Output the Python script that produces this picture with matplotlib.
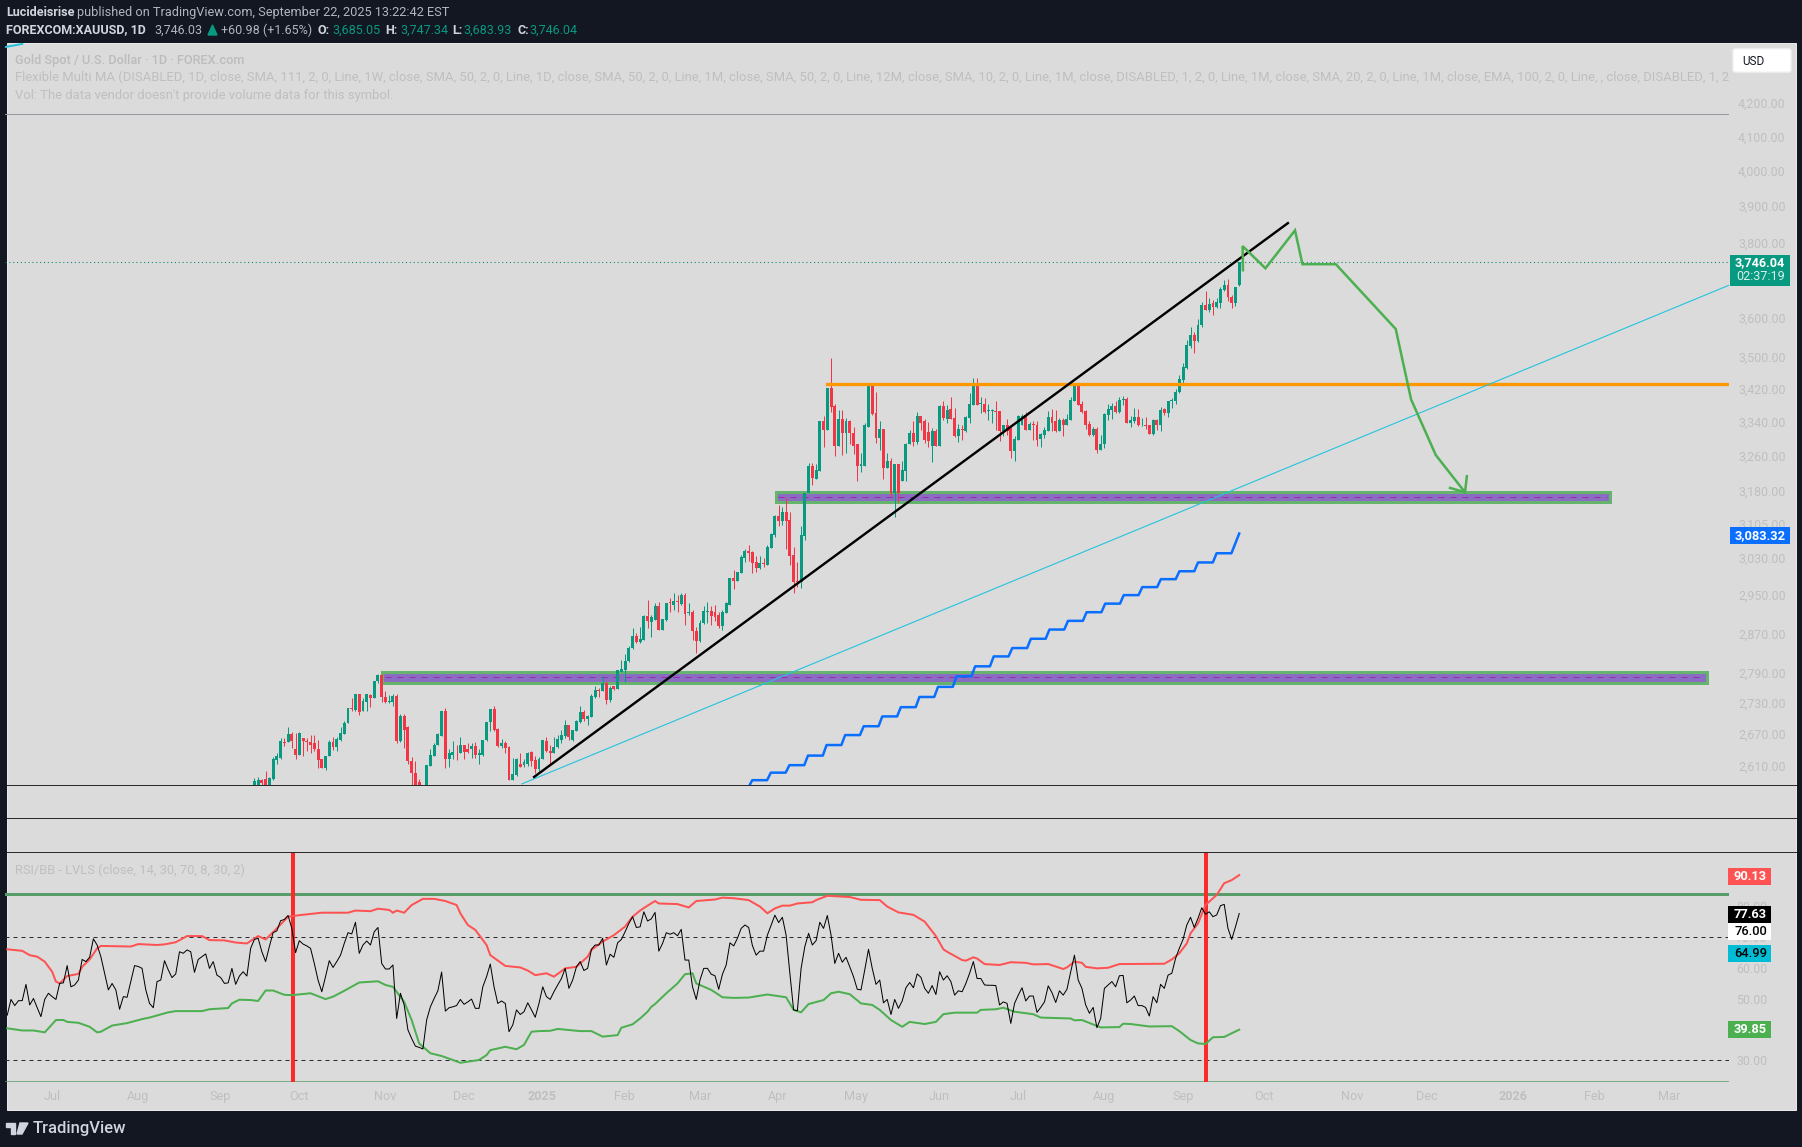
import matplotlib
matplotlib.use("Agg")
import matplotlib.pyplot as plt
from matplotlib.lines import Line2D
from matplotlib.patches import Rectangle, Polygon, FancyBboxPatch
import numpy as np

plt.rcParams['font.family'] = ['Roboto', 'DejaVu Sans']

# ---------- data ----------
opens = [2565,2565,2583,2585,2555,2585,2620,2625,2655,2654,
 2671,2642,2631,2663,2657,2655,2653,2642,2622,2605,
 2628,2655,2645,2659,2671,2691,2720,2717,2748,2714,
 2733,2745,2739,2773,2786,2742,2733,2733,2743,2656,
 2705,2684,2618,2597,2580,2530,2560,2610,2629,2649,
 2667,2715,2622,2631,2634,2634,2650,2642,2641,2648,
 2631,2631,2658,2693,2718,2680,2647,2652,2646,2584,
 2592,2614,2611,2614,2636,2620,2603,2622,2657,2638,
 2633,2645,2659,2666,2688,2659,2675,2693,2713,2699,
 2703,2742,2755,2753,2770,2737,2763,2757,2792,2796,
 2813,2840,2864,2853,2856,2907,2894,2898,2927,2878,
 2898,2936,2929,2937,2931,2951,2912,2915,2875,2855,
 2891,2915,2917,2915,2909,2886,2913,2929,2986,2980,
 2997,3030,3044,3043,3021,3008,3019,3015,3051,3080,
 3123,3111,3131,3113,3036,2979,2978,3078,3174,3236,
 3207,3226,3342,3322,3424,3380,3284,3348,3314,3342,
 3314,3287,3237,3237,3328,3429,3361,3303,3324,3233,
 3249,3174,3240,3201,3226,3289,3314,3292,3355,3342,
 3316,3284,3318,3284,3380,3348,3371,3350,3306,3324,
 3320,3350,3381,3430,3384,3385,3367,3368,3367,3367,
 3320,3332,3328,3271,3298,3334,3357,3322,3336,3334,
 3300,3310,3320,3352,3342,3320,3346,3334,3346,3392,
 3430,3383,3367,3336,3310,3324,3273,3287,3357,3369,
 3379,3365,3394,3396,3339,3342,3352,3332,3334,3332,
 3312,3346,3334,3371,3363,3390,3391,3412,3443,3473,
 3527,3555,3541,3580,3632,3619,3637,3628,3638,3672,
 3686,3655,3638,3685.05]
highs = [2587,2588,2586,2600,2588,2627,2634,2662,2662,2684,
 2673,2672,2673,2663,2662,2669,2669,2659,2623,2628,
 2659,2664,2665,2683,2696,2720,2740,2748,2748,2740,
 2747,2747,2774,2788,2788,2753,2745,2748,2748,2709,
 2709,2685,2626,2619,2585,2560,2611,2641,2653,2672,
 2715,2720,2641,2657,2650,2665,2650,2653,2653,2654,
 2641,2659,2693,2719,2725,2682,2661,2656,2647,2625,
 2625,2634,2622,2636,2638,2628,2627,2659,2664,2650,
 2665,2669,2678,2698,2688,2677,2698,2724,2717,2707,
 2747,2763,2760,2783,2773,2763,2763,2796,2816,2828,
 2844,2881,2870,2884,2909,2940,2909,2933,2936,2899,
 2934,2943,2954,2950,2954,2954,2933,2919,2884,2898,
 2926,2936,2926,2929,2915,2919,2936,2987,3003,2999,
 3036,3049,3057,3045,3033,3034,3030,3058,3084,3125,
 3148,3142,3165,3132,3054,3021,3099,3175,3243,3243,
 3240,3342,3355,3424,3497,3383,3369,3369,3350,3346,
 3328,3289,3267,3338,3435,3435,3414,3342,3324,3267,
 3255,3240,3240,3249,3291,3322,3342,3365,3355,3348,
 3340,3326,3324,3381,3390,3381,3400,3373,3336,3334,
 3355,3410,3447,3447,3402,3398,3385,3371,3391,3367,
 3334,3348,3332,3306,3357,3360,3365,3340,3342,3342,
 3314,3328,3367,3371,3369,3350,3350,3360,3400,3435,
 3435,3391,3369,3342,3328,3328,3310,3361,3383,3387,
 3390,3400,3403,3402,3355,3373,3371,3350,3352,3332,
 3348,3348,3377,3375,3391,3398,3420,3454,3485,3543,
 3575,3563,3596,3640,3671,3652,3645,3652,3681,3699,
 3702,3660,3681,3747.34]
lows = [2555,2560,2570,2550,2545,2583,2613,2622,2648,2654,
 2644,2623,2631,2628,2637,2634,2637,2605,2605,2602,
 2628,2639,2637,2657,2671,2691,2714,2715,2707,2714,
 2714,2722,2739,2769,2732,2730,2730,2724,2652,2654,
 2644,2613,2570,2550,2540,2510,2555,2610,2628,2649,
 2667,2605,2607,2623,2621,2634,2622,2634,2625,2625,
 2613,2629,2656,2675,2675,2645,2644,2633,2584,2584,
 2591,2608,2608,2610,2610,2597,2600,2622,2635,2611,
 2633,2644,2652,2662,2659,2656,2675,2691,2696,2688,
 2703,2740,2742,2753,2729,2733,2755,2757,2792,2771,
 2811,2838,2851,2850,2856,2881,2862,2898,2877,2877,
 2895,2915,2919,2915,2929,2888,2909,2856,2830,2853,
 2889,2891,2888,2895,2881,2878,2912,2929,2964,2980,
 2997,3022,3023,2997,3000,3005,3011,3015,3051,3076,
 3099,3102,3050,3014,2954,2968,2966,3069,3174,3192,
 3207,3226,3282,3322,3365,3259,3284,3263,3267,3287,
 3265,3201,3222,3237,3328,3357,3290,3273,3207,3232,
 3167,3120,3154,3201,3202,3287,3284,3287,3322,3290,
 3282,3245,3284,3284,3346,3338,3348,3304,3292,3298,
 3316,3338,3381,3381,3362,3361,3346,3338,3322,3294,
 3306,3310,3254,3248,3298,3332,3322,3322,3297,3284,
 3282,3302,3320,3320,3316,3320,3308,3334,3344,3390,
 3381,3362,3324,3306,3306,3268,3273,3279,3346,3348,
 3361,3362,3381,3339,3328,3338,3330,3330,3324,3312,
 3310,3322,3320,3357,3352,3373,3385,3411,3435,3471,
 3523,3510,3538,3576,3619,3616,3608,3626,3626,3671,
 3643,3625,3630,3683.93]
closes = [2581,2583,2578,2560,2587,2622,2628,2656,2653,2671,
 2656,2631,2672,2656,2654,2650,2641,2620,2605,2628,
 2655,2645,2660,2672,2692,2720,2719,2748,2712,2735,
 2747,2739,2774,2786,2742,2733,2735,2743,2656,2705,
 2677,2618,2597,2560,2550,2520,2611,2630,2650,2671,
 2715,2622,2633,2636,2633,2650,2636,2636,2648,2631,
 2633,2659,2693,2718,2677,2647,2652,2644,2584,2594,
 2623,2608,2617,2633,2619,2603,2622,2658,2637,2633,
 2645,2661,2669,2688,2665,2677,2695,2713,2699,2704,
 2743,2755,2753,2770,2737,2760,2757,2796,2797,2813,
 2841,2865,2853,2858,2907,2895,2903,2927,2878,2899,
 2934,2934,2937,2935,2951,2910,2915,2874,2855,2892,
 2917,2917,2906,2905,2886,2915,2933,2987,2980,2999,
 3032,3046,3041,3019,3008,3019,3017,3054,3083,3123,
 3111,3131,3111,3033,2978,2977,3080,3175,3236,3209,
 3228,3342,3322,3424,3377,3284,3348,3314,3342,3314,
 3284,3236,3240,3332,3430,3359,3303,3324,3233,3249,
 3174,3240,3174,3228,3289,3314,3292,3355,3339,3297,
 3296,3318,3284,3380,3350,3369,3348,3306,3324,3322,
 3352,3383,3430,3381,3387,3365,3370,3370,3365,3320,
 3332,3320,3271,3300,3355,3355,3322,3336,3334,3298,
 3312,3322,3352,3339,3320,3346,3334,3348,3393,3430,
 3381,3365,3334,3310,3324,3273,3289,3360,3371,3379,
 3365,3394,3396,3339,3346,3352,3332,3334,3331,3312,
 3346,3334,3369,3363,3391,3393,3414,3445,3475,3530,
 3555,3541,3582,3632,3619,3636,3628,3640,3676,3686,
 3654,3638,3681,3746.04]

rsi_values = [44.6,49.7,47.7,49.3,49.3,54.6,47.9,50,47,44.1,49.7,51.7,50.6,49.7,54.9,55.1,60.7,53.8,54.4,56,
 62.7,62,63.4,69.4,67.4,63.6,58.2,52.8,54.9,52.8,46.5,50.6,50.4,55.5,60.7,60.4,59.8,52.8,48.4,47,
 55.5,56,62.3,59.3,56.8,58,65.2,64.7,65.8,65.2,58.5,62.7,63.6,64.5,59.8,62,57.6,56.8,54.9,55.1,
 59.8,54.6,57.3,58.7,57.3,66.3,69.2,69.6,65.2,62,66.9,71.4,72,75.3,75.7,77,72.8,64.9,68.8,67.7,
 67.1,66.3,61.4,56,52.2,57.1,62.3,60.1,62,64.1,67.9,71.4,71,74.8,64.7,67.4,68.7,67.4,71.7,73.1,
 61.4,59.6,59.6,60.9,43.5,51.7,47.9,39.8,37,34.5,34.1,33.6,43,47.3,50,52.5,58.6,45.9,47,47.3,
 47.7,49.7,48.1,48.9,49.8,46.8,46.8,53.8,57.1,61.2,53.8,48.4,49.2,48.4,39.2,41.4,46.3,44.8,45.7,48.6,
 46.3,43.9,48.4,53.8,50.6,49.7,52.2,54.4,56.5,59.8,53.3,56,60.3,62,59.1,59.8,66,67.4,67.4,69.6,
 60.9,64.4,63.4,68.1,69.2,71.7,74.4,76.6,73.1,73.3,
 78.2,75.2,75.9,78,65.4,67.9,71.4,70.9,71.4,70.4,72.5,62.5,62.5,53.8,49.7,56,59.8,59.8,57.9,57.4,
 53,57.9,60.9,68.1,67.1,69.6,72.8,73.9,73.1,67.2,64.1,65.4,65.4,70.6,73.9,77.1,74.7,76.4,70.6,58.2,
 46.3,46,59.8,66.9,71.2,67.4,68.8,74.8,72.8,77,70.6,61.4,64.7,61.8,63.4,60.3,57.1,53,52.8,59.3,
 66,59.8,54.6,56,48.6,49.7,44.8,49.7,46.8,49.2,53.5,55.2,53.5,58,56.9,53.3,51.7,54.2,51.3,58.7,
 56,57.4,55.5,51.1,52.5,52.2,54.9,58.2,62,56.5,56.5,54.4,54.3,54.3,54.2,47.9,48.9,48.4,41.9,48.4,
 51.1,53.5,49.2,50.8,50.8,45.5,47.1,48.9,54.1,51.9,48.7,52.5,51.1,53,58.7,64.1,56,53.3,47.9,45.2,
 47.1,40.5,43.5,53.3,54.4,55.5,53.8,57.4,57.5,48.6,49.5,50.8,47.7,47.7,47.1,44.3,50.6,48.6,54.6,53.3,
 57.6,58.2,63,66.3,69.2,73.9,76.4,73.1,76.1,79.5,77.4,78.2,76.6,77.2,80.2,80.6,72.8,69.2,73.3,77.63]

upper_idx = [-66,-62,-60,-58,-56,-54,-53,-52,-50,-47,-46,-44,-42,-41,-33,-31,-26,-24,-21,-18,-14,-12,-8,-5,-2,1,3,6,9,12,18,25,27,31,33,36,37,38,40,42,45,48,51,54,55,57,59,62,63,67,71,73,75,78,80,83,86,89,90,93,96,99,101,103,
 105,107,108,113,116,118,123,125,128,132,135,137,139,141,143,145,149,150,153,156,159,162,167,169,172,176,179,182,184,185,189,190,192,193,195,199,202,206,208,212,216,217,219,221,222,225,228,231,243,245,247,249,250,252,254,257,259,261,263]
upper_band = [66,65.5,64.1,63.6,62,58.7,55.5,54.9,57.3,58,60.3,62.7,66.3,67.1,66.9,67.7,67.4,67.6,68.3,70.3,70.3,69,68.9,68.2,67.9,70.3,69.2,72.8,76.6,77.1,77.9,77.9,78.6,78.4,79.2,78.8,77.9,78.6,77.9,80.4,82.4,82.4,81.7,80.4,77.7,73.9,72.3,67.4,64.1,60.6,60.1,59.1,57.6,58.2,57.1,59.8,60.3,63.6,65.8,68.5,70.6,73.4,76.6,78.6,
 80.2,81.7,80.9,80.7,79.6,81.7,82.2,82.8,82.6,82,79.9,77.7,79.3,80.2,80.2,80.9,81.3,82,83.4,83.2,83,82.1,82,79.9,78,77.2,75,70.3,66,65.2,62.5,62.3,63.4,63,61.2,60.9,61.8,61.6,61.1,61.2,59.6,60.1,62,61.6,60.3,59.8,60,61.2,61.3,62.7,64.7,67.9,71.2,74.4,80.4,83.7,87.5,88.5,90.13]

lower_idx = [-66,-62,-59,-56,-55,-53,-51,-50,-47,-44,-42,-41,-38,-34,-30,-28,-23,-21,-14,-12,-7,-6,-4,-1,1,3,5,8,10,15,19,21,24,28,33,35,37,40,42,44,47,50,53,55,60,62,63,67,70,72,74,76,79,81,87,90,93,97,98,101,103,
 105,106,107,110,113,115,117,118,122,125,128,132,137,142,144,146,148,152,154,156,159,162,165,167,170,173,175,179,182,184,187,193,194,198,200,203,208,210,218,219,221,226,231,232,234,239,245,247,250,252,254,256,259,261,263]
lower_band = [40.3,39.6,39.6,39,40.3,43,43,42.4,42.1,40.8,39,39.2,41.2,42,43.3,43.8,45.5,45.9,45.9,46.5,46.9,48.4,49.6,49.5,49.2,52.6,52.6,51.2,51.1,51.7,49.8,50.6,52.5,55.2,55.6,54.4,53.8,48.9,43,35.4,32.2,31.3,30,29.1,30,31.6,33.2,34.3,33.5,34.9,39.2,39.4,39.5,40.1,39.4,39.4,37.6,38.1,40.5,41.6,43.5,
 45.7,47.3,48.2,51.7,54.9,57.9,58.2,54.9,52.8,50.4,50.2,50.3,51.3,50.4,46.3,45.5,48.2,49.5,51.7,52.2,51.4,48.4,47.9,46.3,43,40.8,42.4,41.7,42.4,44.9,45.4,45.4,46.3,46.5,47,45.7,44.9,43.8,43.5,42.9,43,40.6,40.7,41.8,41.7,40.9,41,39.4,36.5,35.4,35.2,37.4,37.5,38.7,39.85]

weekly_ma = [2570,2583,2597,2611,2629,2649,2668,2685,2704,2722,2742,2762,2783,2803,2823,2840,2859,2878,2896,2914,2932,2950,2967,2984,3001,3020,3040]
weekly_ma_last = 3083.32

trend_idx, trend_price = [74.7, 276.0], [2589, 3853]
channel_idx, channel_price = [71.4, 393.8], [2576, 3685]
channel2_idx, channel2_price = [-66.6, -62.0], [4372, 4382]
path_idx = [264, 263.9, 270, 277.9, 279.9, 288.8, 304.8, 308.9, 315.5, 323.3]
path_price = [3725, 3790, 3730, 3833, 3741, 3741, 3571, 3395, 3262, 3176]
arrow_idx = [319.3, 323.3, 323.8]
arrow_price = [3186, 3176, 3213]
resistance_price = 3432
resistance_start = 152.9
zones = [(33.8, 388.4, 2769, 2791, 2781), (138.8, 362.3, 3153, 3176, 3165)]
price_ticks = [4200,4100,4000,3900,3800,3600,3500,3420,3340,3260,3180,3105,3030,2950,2870,2790,2730,2670,2610]
rsi_ticks = [80,70,60,50,30]
month_pos = [-54.1,-31.1,-9.2,11.9,34.9,56,76.8,98.7,119,139.8,160.6,182.8,203.9,226.9,248,269.7,293.2,313.2,336.2,357.9,377.9]
month_lab = ['Jul','Aug','Sep','Oct','Nov','Dec','2025','Feb','Mar','Apr','May','Jun','Jul','Aug','Sep','Oct','Nov','Dec','2026','Feb','Mar']
signal_idx = [10.3, 254.1]

W, H = 1802, 1147
def fx(x): return x / W
def fy(y): return 1 - y / H
def ax_rect(l, t, r, b): return [fx(l), fy(b), (r - l) / W, (b - t) / H]
PX = 0.72  # points per pixel at dpi 100

UP, DOWN = '#089981', '#f23645'
FAINT = '#bfbfbf'
fig = plt.figure(figsize=(W / 100, H / 100), dpi=100, facecolor='#121722')
fig.add_artist(Rectangle((fx(6.5), fy(1110)), 1789.5 / W, 1067 / H, transform=fig.transFigure,
                         facecolor='#dbdbdb', edgecolor='#ececec', lw=0.7, zorder=-5))

# ---------- price pane ----------
ax = fig.add_axes(ax_rect(5, 43, 1729, 785), facecolor='none')
ax.set_yscale('log')
XMIN, XMAX = -66.6, 393.8
ax.set_xlim(XMIN, XMAX)
ax.set_ylim(4200 * np.exp(-(785 - 103) / 1393), 4200 * np.exp((103 - 43) / 1393))

x = np.arange(len(closes))
o, h, l, c = map(np.array, (opens, highs, lows, closes))
cols = np.where(c >= o, UP, DOWN)
ax.vlines(x, l, h, colors=cols, lw=1 * PX, zorder=3)
ax.bar(x, np.maximum(np.abs(c - o), 1.5), bottom=np.minimum(o, c), width=0.78, color=cols, lw=0, zorder=3)

for x0, x1, lo, hi, mid in zones:
    ax.add_patch(Rectangle((x0 + .4, lo), x1 - x0 - .8, hi - lo, facecolor='#8a6dc3', edgecolor='#66b36e',
                           lw=3 * PX, zorder=2))
    ax.plot([x0 + 1, x1 - 1], [mid, mid], color='#9c27b0', lw=1 * PX, dashes=(6, 6), zorder=2.1)

ax.plot([resistance_start, XMAX], [resistance_price] * 2, color='#ff9800', lw=3.3 * PX, zorder=4)
ax.plot(channel_idx, channel_price, color='#22c4dc', lw=1.1 * PX, zorder=4)
ax.plot(channel2_idx, channel2_price, color='#22c4dc', lw=2 * PX, zorder=4)
ax.plot(trend_idx, trend_price, color='black', lw=2.4 * PX, zorder=5)
ax.plot(path_idx, path_price, color='#4caf50', lw=2.5 * PX, zorder=5, solid_joinstyle='miter')
ax.plot(arrow_idx, arrow_price, color='#4caf50', lw=2.5 * PX, zorder=5)

sx, sy = [], []
for k, v in enumerate(weekly_ma):
    st = 128 + 4.96 * k
    sx += [st, st + 3.96]
    sy += [v, v]
sx.append(263); sy.append(weekly_ma_last)
ax.plot(sx, sy, color='#0a6eff', lw=2.5 * PX, zorder=4)

ax.axhline(closes[-1], color='#0b8a74', lw=1.1 * PX, ls=(0, (1, 2.5)), zorder=2)
ax.axhline(4167, color='#9598a1', lw=1 * PX, zorder=2)

ax.yaxis.tick_right()
ax.set_yticks(price_ticks)
ax.set_yticklabels([f'{p:,.2f}' for p in price_ticks])
ax.minorticks_off()
ax.tick_params(axis='y', length=0, pad=9 * PX, labelsize=8.9, labelcolor=FAINT)
ax.set_xticks([])
for s in ax.spines.values():
    s.set_visible(False)

# legend lines
ma_text = ("Flexible Multi MA (DISABLED, 1D, close, SMA, 111, 2, 0, Line, 1W, close, SMA, 50, 2, 0, Line, "
           "1D, close, SMA, 50, 2, 0, Line, 1M, close, SMA, 50, 2, 0, Line, 12M, close, SMA, 10, 2, 0, Line, "
           "1M, close, DISABLED, 1, 2, 0, Line, 1M, close, SMA, 20, 2, 0, Line, 1M, close, EMA, 100, 2, 0, Line, "
           ", close, DISABLED, 1, 2")
fig.text(fx(15), fy(60.7), "Gold Spot / U.S. Dollar · 1D · FOREX.com", color='#bcbcbc', fontsize=9.2, va='center', weight='medium')
fig.text(fx(15), fy(77.7), ma_text, color=FAINT, fontsize=9.38, va='center')
fig.text(fx(15), fy(95), "Vol: The data vendor doesn't provide volume data for this symbol.", color=FAINT, fontsize=9.35, va='center')

# ---------- RSI pane ----------
rx = fig.add_axes(ax_rect(5, 852, 1729, 1082), facecolor='none')
rx.set_xlim(XMIN, XMAX)
rx.set_ylim(70 - (1082 - 937) / 3.075, 70 + (937 - 852) / 3.075)
rx.axhline(84, color='#589d69', lw=3 * PX, zorder=2)
rx.plot([XMIN, XMAX], [22.95, 22.95], color='#589d69', lw=1.5 * PX, zorder=2)
rx.axhline(70, color='#2b2b2b', lw=1 * PX, dashes=(4, 4), zorder=2)
rx.axhline(30, color='#2b2b2b', lw=1 * PX, dashes=(4, 4), zorder=2)
for s_i in signal_idx:
    rx.axvline(s_i, color='#fb2b2b', lw=4 * PX, zorder=3)
rx.plot(upper_idx, upper_band, color='#ff5252', lw=2 * PX, zorder=4)
rx.plot(lower_idx, lower_band, color='#4caf50', lw=2 * PX, zorder=4)
rsi_x = 263 - (len(rsi_values) - 1) + np.arange(len(rsi_values))
rx.plot(rsi_x, rsi_values, color='black', lw=1 * PX, zorder=5)
rx.yaxis.tick_right()
rx.set_yticks(rsi_ticks)
rx.set_yticklabels([f'{v:.2f}' for v in rsi_ticks])
rx.tick_params(axis='y', length=0, pad=7 * PX, labelsize=8.9, labelcolor=FAINT)
rx.set_xticks(month_pos)
rx.set_xticklabels(month_lab)
rx.tick_params(axis='x', length=0, pad=8 * PX, labelsize=9.1, labelcolor=FAINT)
for lab in rx.get_xticklabels():
    if lab.get_text() in ('2025', '2026'):
        lab.set_fontweight('bold')
for s in rx.spines.values():
    s.set_visible(False)
fig.text(fx(15), fy(870), "RSI/BB - LVLS (close, 14, 30, 70, 8, 30, 2)", color=FAINT, fontsize=9.3, va='center')

# pane separators
for yy in (785, 818, 852):
    fig.add_artist(Line2D([fx(6.5), fx(1796)], [fy(yy), fy(yy)], color='#2b2b2b', lw=1 * PX, transform=fig.transFigure, zorder=6))

# ---------- header ----------
fig.text(fx(6), fy(12.5), "Lucideisrise", color='#d1d4dc', fontsize=9.1, weight='bold', va='center')
fig.text(fx(77), fy(12.5), "published on TradingView.com, September 22, 2025 13:22:42 EST", color='#b2b5be', fontsize=9.15, va='center')
fig.text(fx(6), fy(30), "FOREXCOM:XAUUSD, 1D", color='#d1d4dc', fontsize=9.0, weight='bold', va='center')
fig.text(fx(154), fy(30), "3,746.03", color='#b2b5be', fontsize=9.0, va='center')
fig.text(fx(221), fy(30), "+60.98 (+1.65%)", color='#b2b5be', fontsize=9.0, va='center')
fig.add_artist(Polygon([(fx(208), fy(35)), (fx(217), fy(35)), (fx(212.5), fy(25))], closed=True, transform=fig.transFigure, color=UP))
for lx, lab, vx, val in [(317, 'O:', 332, '3,685.05'), (385, 'H:', 400, '3,747.34'), (452, 'L:', 463, '3,683.93'), (517, 'C:', 529, '3,746.04')]:
    fig.text(fx(lx), fy(30), lab, color='#d1d4dc', fontsize=9.0, weight='bold', va='center')
    fig.text(fx(vx), fy(30), val, color=UP, fontsize=9.0, va='center')

# ---------- value boxes ----------
def box(l, t, r, b, color, text, tc, weight='medium'):
    fig.add_artist(Rectangle((fx(l), fy(b)), (r - l) / W, (b - t) / H, transform=fig.transFigure, color=color, lw=0, zorder=7))
    fig.text(fx(r - 4), fy((t + b) / 2), text, color=tc, fontsize=9.3, weight=weight, ha='right', va='center', zorder=8)

fig.add_artist(Rectangle((fx(1730), fy(286)), 60 / W, 31 / H, transform=fig.transFigure, color=UP, lw=0, zorder=7))
fig.text(fx(1785), fy(263), "3,746.04", color='white', fontsize=9.1, weight='bold', ha='right', va='center', zorder=8)
fig.text(fx(1785), fy(277), "02:37:19", color='#d9efe9', fontsize=9.1, ha='right', va='center', zorder=8)
box(1730, 527, 1790, 544, '#0a6eff', "3,083.32", 'white', 'bold')
box(1728, 868, 1771, 885, '#ff5252', "90.13", 'white', 'bold')
box(1728, 906, 1771, 923, 'black', "77.63", 'white', 'bold')
box(1728, 923, 1771, 940, 'white', "76.00", 'black')
box(1728, 945, 1771, 962, '#00bcd4', "64.99", 'black')
box(1728, 1021, 1771, 1038, '#4caf50', "39.85", 'white', 'bold')

fig.add_artist(FancyBboxPatch((fx(1735), fy(71)), 54 / W, 21 / H, boxstyle="round,pad=0.0012,rounding_size=0.002",
                              transform=fig.transFigure, facecolor='white', edgecolor='#ececec', lw=1, zorder=7))
fig.text(fx(1742), fy(61.5), "USD", color='#131722', fontsize=8.5, va='center', zorder=8)

# ---------- logo ----------
logo = '#d1d4dc'
fig.add_artist(Polygon([(fx(6), fy(1123)), (fx(15), fy(1123)), (fx(15), fy(1134)), (fx(11), fy(1134)), (fx(11), fy(1127)), (fx(6), fy(1127))],
                       closed=True, transform=fig.transFigure, color=logo))
fig.add_artist(Polygon([(fx(20), fy(1123)), (fx(28), fy(1123)), (fx(22), fy(1134)), (fx(17), fy(1134))],
                       closed=True, transform=fig.transFigure, color=logo))
fig.text(fx(33), fy(1128), "TradingView", color=logo, fontsize=11.95, weight='medium', va='center')

fig.savefig('out.png', dpi=100, facecolor=fig.get_facecolor())
